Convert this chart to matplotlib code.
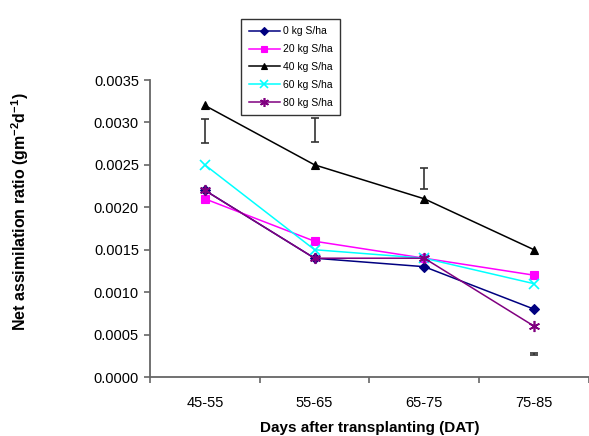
import numpy as np
import matplotlib
matplotlib.use("Agg")
import matplotlib.pyplot as plt

plt.rcParams["font.family"] = ["Liberation Sans", "DejaVu Sans"]

periods = ["45-55", "55-65", "65-75", "75-85"]
labels = ["0 kg S/ha", "20 kg S/ha", "40 kg S/ha", "60 kg S/ha", "80 kg S/ha"]
s0 = [0.0022, 0.0014, 0.0013, 0.0008]
s20 = [0.0021, 0.0016, 0.0014, 0.0012]
s40 = [0.0032, 0.0025, 0.0021, 0.0015]
s60 = [0.0025, 0.0015, 0.0014, 0.0011]
s80 = [0.0022, 0.0014, 0.0014, 0.0006]

# LSD bars drawn separately above the lines
lsd_center = [0.00290, 0.00291, 0.00234, 0.00027]
lsd_half = [0.00014, 0.00014, 0.00012, 0.00001]

colors = ["#000080", "#FF00FF", "#000000", "#00FFFF", "#800080"]
markers = ["D", "s", "^", "x", (6, 2, 0)]
msizes = [5, 6, 6, 7, 8]

fig = plt.figure(figsize=(5.89, 4.36), dpi=100)
ax = fig.add_axes([0.2547, 0.1353, 0.745, 0.6812])

x = np.arange(len(periods))
for ys, c, m, ms, lab in zip([s0, s20, s40, s60, s80], colors, markers, msizes, labels):
    ax.plot(x, ys, color=c, marker=m, markersize=ms, linewidth=1.1,
            markeredgewidth=1.2 if m in ("x", (6, 2, 0)) else 0.8, label=lab)

ax.errorbar(x, lsd_center, yerr=lsd_half, fmt="none", ecolor="#333333",
            elinewidth=1.2, capsize=3, capthick=1.2)

ax.set_xlim(-0.5, 3.5)
ax.set_ylim(0, 0.0035)
yt = np.arange(0, 0.00351, 0.0005)
ax.set_yticks(yt)
ax.set_yticklabels([f"{v:.4f}" for v in yt])
ax.set_xticks(x)
ax.set_xticklabels(periods)
ax.set_xticks(np.arange(-0.5, 3.6, 1.0), minor=True)
ax.tick_params(axis="x", which="major", length=0, pad=14, labelsize=10.5)
ax.tick_params(axis="x", which="minor", length=4, color="#666666", width=1.2)
ax.tick_params(axis="y", length=4, color="#666666", width=1.2, labelsize=10.5, pad=4)

for side in ("top", "right"):
    ax.spines[side].set_visible(False)
for side in ("left", "bottom"):
    ax.spines[side].set_color("#666666")
    ax.spines[side].set_linewidth(1.3)

fig.text(0.627, 0.018, "Days after transplanting (DAT)", fontweight="bold",
         fontsize=11, ha="center", va="center")
fig.text(0.034, 0.515, "Net assimilation ratio (gm$^{\\mathregular{-2}}$d$^{\\mathregular{-1}}$)",
         rotation=90, fontweight="bold", fontsize=11.5, ha="center", va="center")

leg = fig.legend(loc="upper left", bbox_to_anchor=(0.401, 0.968), fontsize=7.5,
                 frameon=True, fancybox=False, edgecolor="black", handlelength=3,
                 borderpad=0.7, labelspacing=0.75, handletextpad=0.3, markerscale=0.8)
leg.get_frame().set_linewidth(1.0)

fig.savefig("out.png", dpi=100)
